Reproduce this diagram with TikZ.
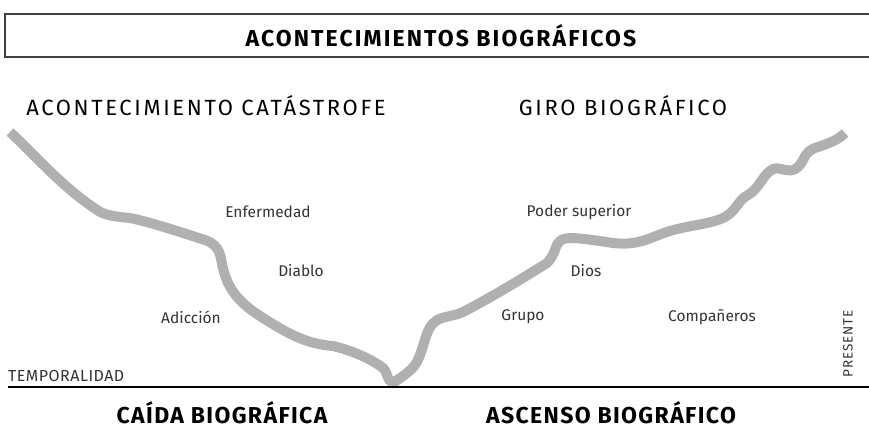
\documentclass[tikz,border=0pt]{standalone}
\usepackage{fontspec}
\setmainfont{Fira Sans}
\newfontfamily\spacedfont[LetterSpace=12]{Fira Sans}
\newfontfamily\axisfont[LetterSpace=3]{Fira Sans}
\newfontfamily\presfont[LetterSpace=6]{Fira Sans}
\newfontfamily\boldspaced[LetterSpace=6]{Fira Sans Bold}
\newfontfamily\titlefont[LetterSpace=9]{Fira Sans Bold}
\definecolor{curvegray}{HTML}{B0B0B0}
\definecolor{labelgray}{HTML}{333333}
\begin{document}
\begin{tikzpicture}[x=1pt,y=-1pt,
  evlabel/.style={font=\fontsize{15.5}{15.5}\selectfont, text=labelgray, inner sep=0pt},
  phase/.style={font=\boldspaced\fontsize{23}{23}\selectfont, inner sep=0pt, anchor=base},
  turn/.style={font=\spacedfont\fontsize{22}{22}\selectfont, inner sep=0pt},
  axislabel/.style={font=\axisfont\fontsize{16}{16}\selectfont, text=labelgray, inner sep=0pt}]
\useasboundingbox (0,0) rectangle (869,429);
% title box
\draw[line width=1.5pt, black!75] (870,14) -- (5,14) -- (5,57) -- (870,57);
\node[font=\titlefont\fontsize{23}{23}\selectfont, inner sep=0pt] (title) at (441,36) {ACONTECIMIENTOS BIOGRÁFICOS};
% headings
\node[turn] (cat) at (206,106) {ACONTECIMIENTO CATÁSTROFE};
\node[turn] (giro) at (623,106) {GIRO BIOGRÁFICO};
% curve
\draw[curvegray, line width=10pt, line join=round]
  (10,132) .. controls (40,160) and (60,185) .. (97,210)
  .. controls (105,216) and (120,217) .. (130,218)
  .. controls (150,222) and (180,232) .. (205,240)
  .. controls (222,246) and (220,258) .. (223,268)
  .. controls (228,290) and (240,303) .. (260,316)
  .. controls (285,332) and (305,344) .. (333,346)
  .. controls (350,350) and (370,358) .. (383,368)
  .. controls (389,374) and (385,378) .. (393,383)
  .. controls (400,378) and (410,372) .. (415,365)
  .. controls (425,350) and (424,328) .. (437,320)
  .. controls (445,316) and (455,316) .. (463,312)
  .. controls (490,298) and (520,280) .. (547,263)
  .. controls (556,254) and (555,244) .. (560,241)
  .. controls (565,236) and (580,238) .. (613,243)
  .. controls (640,246) and (650,237) .. (670,231)
  .. controls (690,225) and (712,224) .. (725,217)
  .. controls (737,210) and (738,200) .. (748,195)
  .. controls (760,188) and (762,175) .. (773,169)
  .. controls (780,166) and (790,175) .. (798,167)
  .. controls (805,160) and (804,152) .. (815,148)
  .. controls (830,143) and (838,140) .. (845,133);
% baseline
\draw[line width=2.5pt, black] (8,387) -- (869,387);
% event labels
\node[evlabel] (enf) at (268,212) {Enfermedad};
\node[evlabel] (diablo) at (301,271) {Diablo};
\node[evlabel] (adic) at (191,317) {Adicción};
\node[evlabel] (poder) at (579,212) {Poder superior};
\node[evlabel] (dios) at (586,271) {Dios};
\node[evlabel] (grupo) at (523,317) {Grupo};
\node[evlabel] (comp) at (712,317) {Compañeros};
% axis labels
\node[axislabel, anchor=base west] (temp) at (8,381) {TEMPORALIDAD};
\node[font=\presfont\fontsize{13.5}{13.5}\selectfont, text=labelgray, inner sep=0pt, rotate=90] (pres) at (848,344) {PRESENTE};
% phases
\node[phase] (caida) at (222,423) {CAÍDA BIOGRÁFICA};
\node[phase] (ascenso) at (611,423) {ASCENSO BIOGRÁFICO};
\end{tikzpicture}
\end{document}
